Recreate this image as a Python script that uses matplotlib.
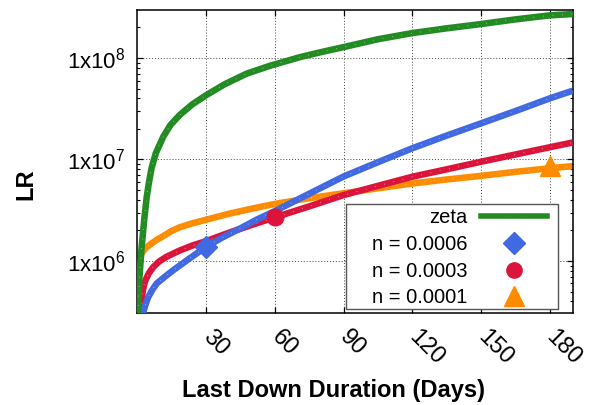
import matplotlib
matplotlib.use('Agg')
import matplotlib.pyplot as plt
from matplotlib.patches import Rectangle
from matplotlib.ticker import LogLocator, FixedLocator, NullFormatter

plt.rcParams['font.family'] = ['Liberation Sans', 'DejaVu Sans']
plt.rcParams['mathtext.fontset'] = 'custom'
plt.rcParams['mathtext.rm'] = 'Liberation Sans'
plt.rcParams['mathtext.default'] = 'regular'

# curves: (days, LR)
zeta_days = [0.2, 0.8, 1.8, 3, 4, 5, 6.2, 8, 11.3, 14.5, 18.5, 24, 30, 38, 47.6, 58, 71,
             80, 90, 105, 120, 135, 150, 165, 180, 190]
zeta_lr = [2.9e5, 6.5e5, 1.35e6, 2.6e6, 4.2e6, 5.9e6, 8.3e6, 1.15e7, 1.68e7, 2.2e7,
           2.75e7, 3.5e7, 4.3e7, 5.5e7, 7.0e7, 8.4e7, 1.02e8, 1.14e8, 1.28e8, 1.53e8,
           1.76e8, 1.96e8, 2.16e8, 2.4e8, 2.63e8, 2.71e8]

n6_days = [2.3, 3.5, 4.7, 6.5, 8.4, 12, 15.6, 22, 30, 37, 45, 52, 60, 75, 90, 105, 120,
           135, 150, 165, 180, 190]
n6_lr = [3.0e5, 3.7e5, 4.4e5, 5.2e5, 6.0e5, 7.0e5, 8.1e5, 1.03e6, 1.38e6, 1.7e6, 2.1e6,
         2.55e6, 3.1e6, 4.6e6, 6.8e6, 9.4e6, 1.29e7, 1.72e7, 2.27e7, 3.0e7, 4.0e7, 4.76e7]

n3_days = [1.5, 1.9, 2.4, 3.3, 5, 6.9, 9.5, 12.7, 18.5, 24, 30, 40, 50, 60, 75, 90, 105,
           120, 135, 150, 165, 180, 190]
n3_lr = [3.05e5, 4.2e5, 5.2e5, 6.3e5, 7.6e5, 8.7e5, 9.9e5, 1.1e6, 1.27e6, 1.42e6, 1.57e6,
         1.9e6, 2.27e6, 2.69e6, 3.45e6, 4.46e6, 5.5e6, 6.76e6, 8.0e6, 9.5e6, 1.12e7,
         1.32e7, 1.47e7]

n1_days = [0, 0.3, 0.7, 1.1, 2, 3, 4, 6, 8.5, 11.3, 15, 18.5, 24, 30, 40, 50, 60, 75, 90,
           105, 120, 135, 150, 165, 180, 190]
n1_lr = [7.9e5, 9.2e5, 1.02e6, 1.1e6, 1.2e6, 1.29e6, 1.36e6, 1.48e6, 1.62e6, 1.76e6,
         1.98e6, 2.15e6, 2.35e6, 2.55e6, 2.92e6, 3.28e6, 3.65e6, 4.15e6, 4.65e6, 5.2e6,
         5.8e6, 6.35e6, 6.9e6, 7.55e6, 8.2e6, 8.6e6]

# single markers drawn on the curves
n6_mark = (30, 1.38e6)
n3_mark = (60, 2.69e6)
n1_mark = (180, 8.7e6)

x_ticks = [30, 60, 90, 120, 150, 180]
y_ticks = [1e6, 1e7, 1e8]
y_labels = ['1x10$^{6}$', '1x10$^{7}$', '1x10$^{8}$']

green = '#228B22'
blue = '#4169E1'
red = '#DC143C'
orange = '#FF8C00'

fig = plt.figure(figsize=(5.95, 4.05), dpi=100)
ax = fig.add_axes([0.231, 0.2264, 0.7315, 0.7489])

# curves, last one on top
for d, v, c, z in [(n1_days, n1_lr, orange, 2), (n3_days, n3_lr, red, 3),
                   (n6_days, n6_lr, blue, 4), (zeta_days, zeta_lr, green, 5)]:
    ax.plot(d, v, color=c, lw=4.7, solid_capstyle='butt', solid_joinstyle='round', zorder=z)
    ax.plot(d, v, color='white', lw=0.7, dashes=(0.8, 9), alpha=0.6, zorder=z)

ax.plot(*n6_mark, marker='D', ms=11, color=blue, ls='none', zorder=6)
ax.plot(*n3_mark, marker='o', ms=12, color=red, ls='none', zorder=6)
ax.plot(*n1_mark, marker='^', ms=14, color=orange, ls='none', zorder=6)

ax.set_yscale('log')
ax.set_xlim(0, 190)
ax.set_ylim(3.05e5, 2.97e8)

ax.xaxis.set_major_locator(FixedLocator(x_ticks))
ax.set_xticklabels([str(t) for t in x_ticks], rotation=-45, ha='left', va='center',
                   rotation_mode='anchor', fontsize=17)
ax.yaxis.set_major_locator(FixedLocator(y_ticks))
ax.set_yticklabels(y_labels)
ax.yaxis.set_minor_locator(LogLocator(base=10, subs=range(2, 10), numticks=20))
ax.yaxis.set_minor_formatter(NullFormatter())

ax.tick_params(which='both', direction='in', top=True, right=True)
ax.tick_params(axis='y', labelsize=16)
ax.tick_params(which='major', length=4, width=0.9)
ax.tick_params(which='minor', length=2.2, width=0.8)
ax.tick_params(axis='x', pad=15)
ax.tick_params(axis='y', pad=9)

ax.grid(True, which='major', color='#444444', lw=0.7, ls=(0, (1, 2)))
for s in ax.spines.values():
    s.set_linewidth(1.1)

# legend box drawn separately so it can be wider than the entries
ax.add_patch(Rectangle((0.479, 0.014), 0.487, 0.346, transform=ax.transAxes,
                       facecolor='white', edgecolor='#555555', lw=1.0, zorder=7))
h_zeta, = ax.plot([], [], color=green, lw=4, label='zeta')
h6, = ax.plot([], [], marker='D', ms=11, color=blue, ls='none', label='n = 0.0006')
h3, = ax.plot([], [], marker='o', ms=11, color=red, ls='none', label='n = 0.0003')
h1, = ax.plot([], [], marker='^', ms=14, color=orange, ls='none', label='n = 0.0001')
leg = ax.legend(handles=[h_zeta, h6, h3, h1], loc='lower right',
                bbox_to_anchor=(0.941, 0.02), bbox_transform=ax.transAxes,
                frameon=False, borderpad=0, borderaxespad=0, markerfirst=False,
                handlelength=3.3, handletextpad=0.65, labelspacing=0.38,
                fontsize=14.5, numpoints=1)
leg.set_zorder(8)

fig.text(25.5 / 595, 1 - 184 / 405, 'LR', rotation=90, ha='center', va='center',
         fontsize=17, fontweight='bold')
fig.text(333 / 595, 1 - 396.7 / 405, 'Last Down Duration (Days)', ha='center',
         va='baseline', fontsize=17, fontweight='bold')

fig.savefig('out.png', dpi=100)
